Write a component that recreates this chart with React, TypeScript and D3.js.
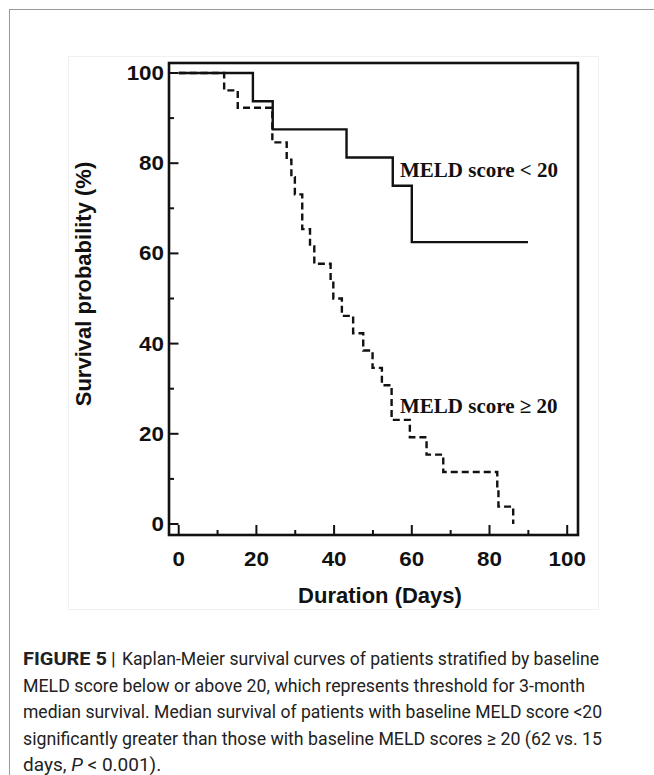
import React from 'react';
import * as d3 from 'd3';

// Kaplan-Meier steps (days, survival %)
const lowTimes = [0, 19.1, 24.2, 43.2, 55.1, 60.0, 89.9];
const lowSurv = [100, 93.75, 87.5, 81.25, 75, 62.5, 62.5];

const highTimes = [0, 11.7, 15.2, 24.1, 27.8, 29.0, 29.9, 31.8, 33.8, 34.9, 39.1, 39.8, 42.0, 44.9, 47.5, 49.9, 52.3, 54.8, 59.5, 63.8, 68.1, 82.0, 82.3, 86.1];
const highSurv = [100, 96.15, 92.31, 84.62, 80.77, 76.92, 73.08, 65.38, 61.54, 57.69, 53.85, 50.0, 46.15, 42.31, 38.46, 34.62, 30.77, 23.08, 19.23, 15.38, 11.54, 7.69, 3.85, 0];

const majorTicks = [0, 20, 40, 60, 80, 100];
const minorTicks = [10, 30, 50, 70, 90];

const captionLines = [
  'Kaplan-Meier survival curves of patients stratified by baseline',
  'MELD score below or above 20, which represents threshold for 3-month',
  'median survival. Median survival of patients with baseline MELD score <20',
  'significantly greater than those with baseline MELD scores \u2265 20 (62 vs. 15',
];
const captionWidths = [477, 562, 579, 579];

const App = () => {
  const x = d3.scaleLinear().domain([0, 100]).range([178.7, 567.2]);
  const y = d3.scaleLinear().domain([0, 100]).range([524, 73]);
  const left = 169, right = 578, top = 63, bottom = 535;

  const line = d3.line<[number, number]>()
    .x(d => x(d[0]))
    .y(d => y(d[1]))
    .curve(d3.curveStepAfter);

  const lowPts = lowTimes.map((t, i) => [t, lowSurv[i]] as [number, number]);
  const highPts = highTimes.map((t, i) => [t, highSurv[i]] as [number, number]);

  const sans = 'Arial, "Liberation Sans", Helvetica, sans-serif';
  const serif = '"Times New Roman", "Liberation Serif", serif';
  const capFont = 'Roboto, "Liberation Sans", Arial, sans-serif';
  const ink = '#111';
  const capY = [665, 691.5, 718, 744.5, 771];

  return (
    <svg width={654} height={775} style={{ position: 'absolute', left: 0, top: 0, background: '#fff' }}>
      {/* page frame */}
      <line x1={9} y1={9.5} x2={654} y2={9.5} stroke="#9a9a9a" strokeWidth={1} />
      <line x1={9.5} y1={9} x2={9.5} y2={775} stroke="#9a9a9a" strokeWidth={1} />
      <rect x={68.5} y={56.5} width={530} height={553} fill="none" stroke="#f0f0f0" strokeWidth={1} />

      {/* plot frame */}
      <rect x={left} y={top} width={right - left} height={bottom - top} fill="none" stroke={ink} strokeWidth={2.6} />

      {/* x ticks */}
      {majorTicks.map(t => (
        <g key={'xm' + t}>
          <line x1={x(t)} x2={x(t)} y1={bottom} y2={bottom - 10} stroke={ink} strokeWidth={2} />
          <text transform={`translate(${x(t)},566) scale(1.12,1)`} textAnchor="middle"
            fontFamily={sans} fontWeight="bold" fontSize={20} fill={ink}>{t}</text>
        </g>
      ))}
      {minorTicks.map(t => (
        <line key={'xn' + t} x1={x(t)} x2={x(t)} y1={bottom} y2={bottom - 5} stroke={ink} strokeWidth={2} />
      ))}

      {/* y ticks */}
      {majorTicks.map(t => (
        <g key={'ym' + t}>
          <line x1={left} x2={left + 9.5} y1={y(t)} y2={y(t)} stroke={ink} strokeWidth={2} />
          <text transform={`translate(164,${y(t) + 7}) scale(1.12,1)`} textAnchor="end"
            fontFamily={sans} fontWeight="bold" fontSize={20} fill={ink}>{t}</text>
        </g>
      ))}
      {minorTicks.map(t => (
        <line key={'yn' + t} x1={left} x2={left + 5} y1={y(t)} y2={y(t)} stroke={ink} strokeWidth={2} />
      ))}

      {/* axis titles */}
      <text x={380} y={603} textAnchor="middle" fontFamily={sans} fontWeight="bold" fontSize={22} fill={ink}>
        Duration (Days)
      </text>
      <text transform="translate(91,284) rotate(-90)" textAnchor="middle" fontFamily={sans} fontWeight="bold" fontSize={22} fill={ink}>
        Survival probability (%)
      </text>

      {/* curves */}
      <path d={line(lowPts) || ''} fill="none" stroke={ink} strokeWidth={2.4} />
      <path d={line(highPts) || ''} fill="none" stroke={ink} strokeWidth={2.4} strokeDasharray="7,4" />

      {/* curve labels */}
      <text x={400} y={177} fontFamily={serif} fontWeight="bold" fontSize={21} fill={ink}>MELD score &lt; 20</text>
      <text x={400} y={413} fontFamily={serif} fontWeight="bold" fontSize={21} fill={ink}>MELD score {'\u2265'} 20</text>

      {/* caption */}
      <text x={23} y={capY[0]} fontFamily={capFont} fontWeight="bold" fontSize={19} fill="#222"
        textLength={84} lengthAdjust="spacingAndGlyphs">FIGURE 5</text>
      <text x={111} y={capY[0]} fontFamily={capFont} fontSize={19} fill="#222">|</text>
      {captionLines.map((s, i) => (
        <text key={i} x={i === 0 ? 122 : 23} y={capY[i]} fontFamily={capFont} fontSize={19} fill="#222"
          textLength={captionWidths[i]} lengthAdjust="spacingAndGlyphs">{s}</text>
      ))}
      <text x={23} y={capY[4]} fontFamily={capFont} fontSize={19} fill="#222">
        days, <tspan fontStyle="italic">P</tspan> &lt; 0.001).
      </text>
    </svg>
  );
};

export default App;
